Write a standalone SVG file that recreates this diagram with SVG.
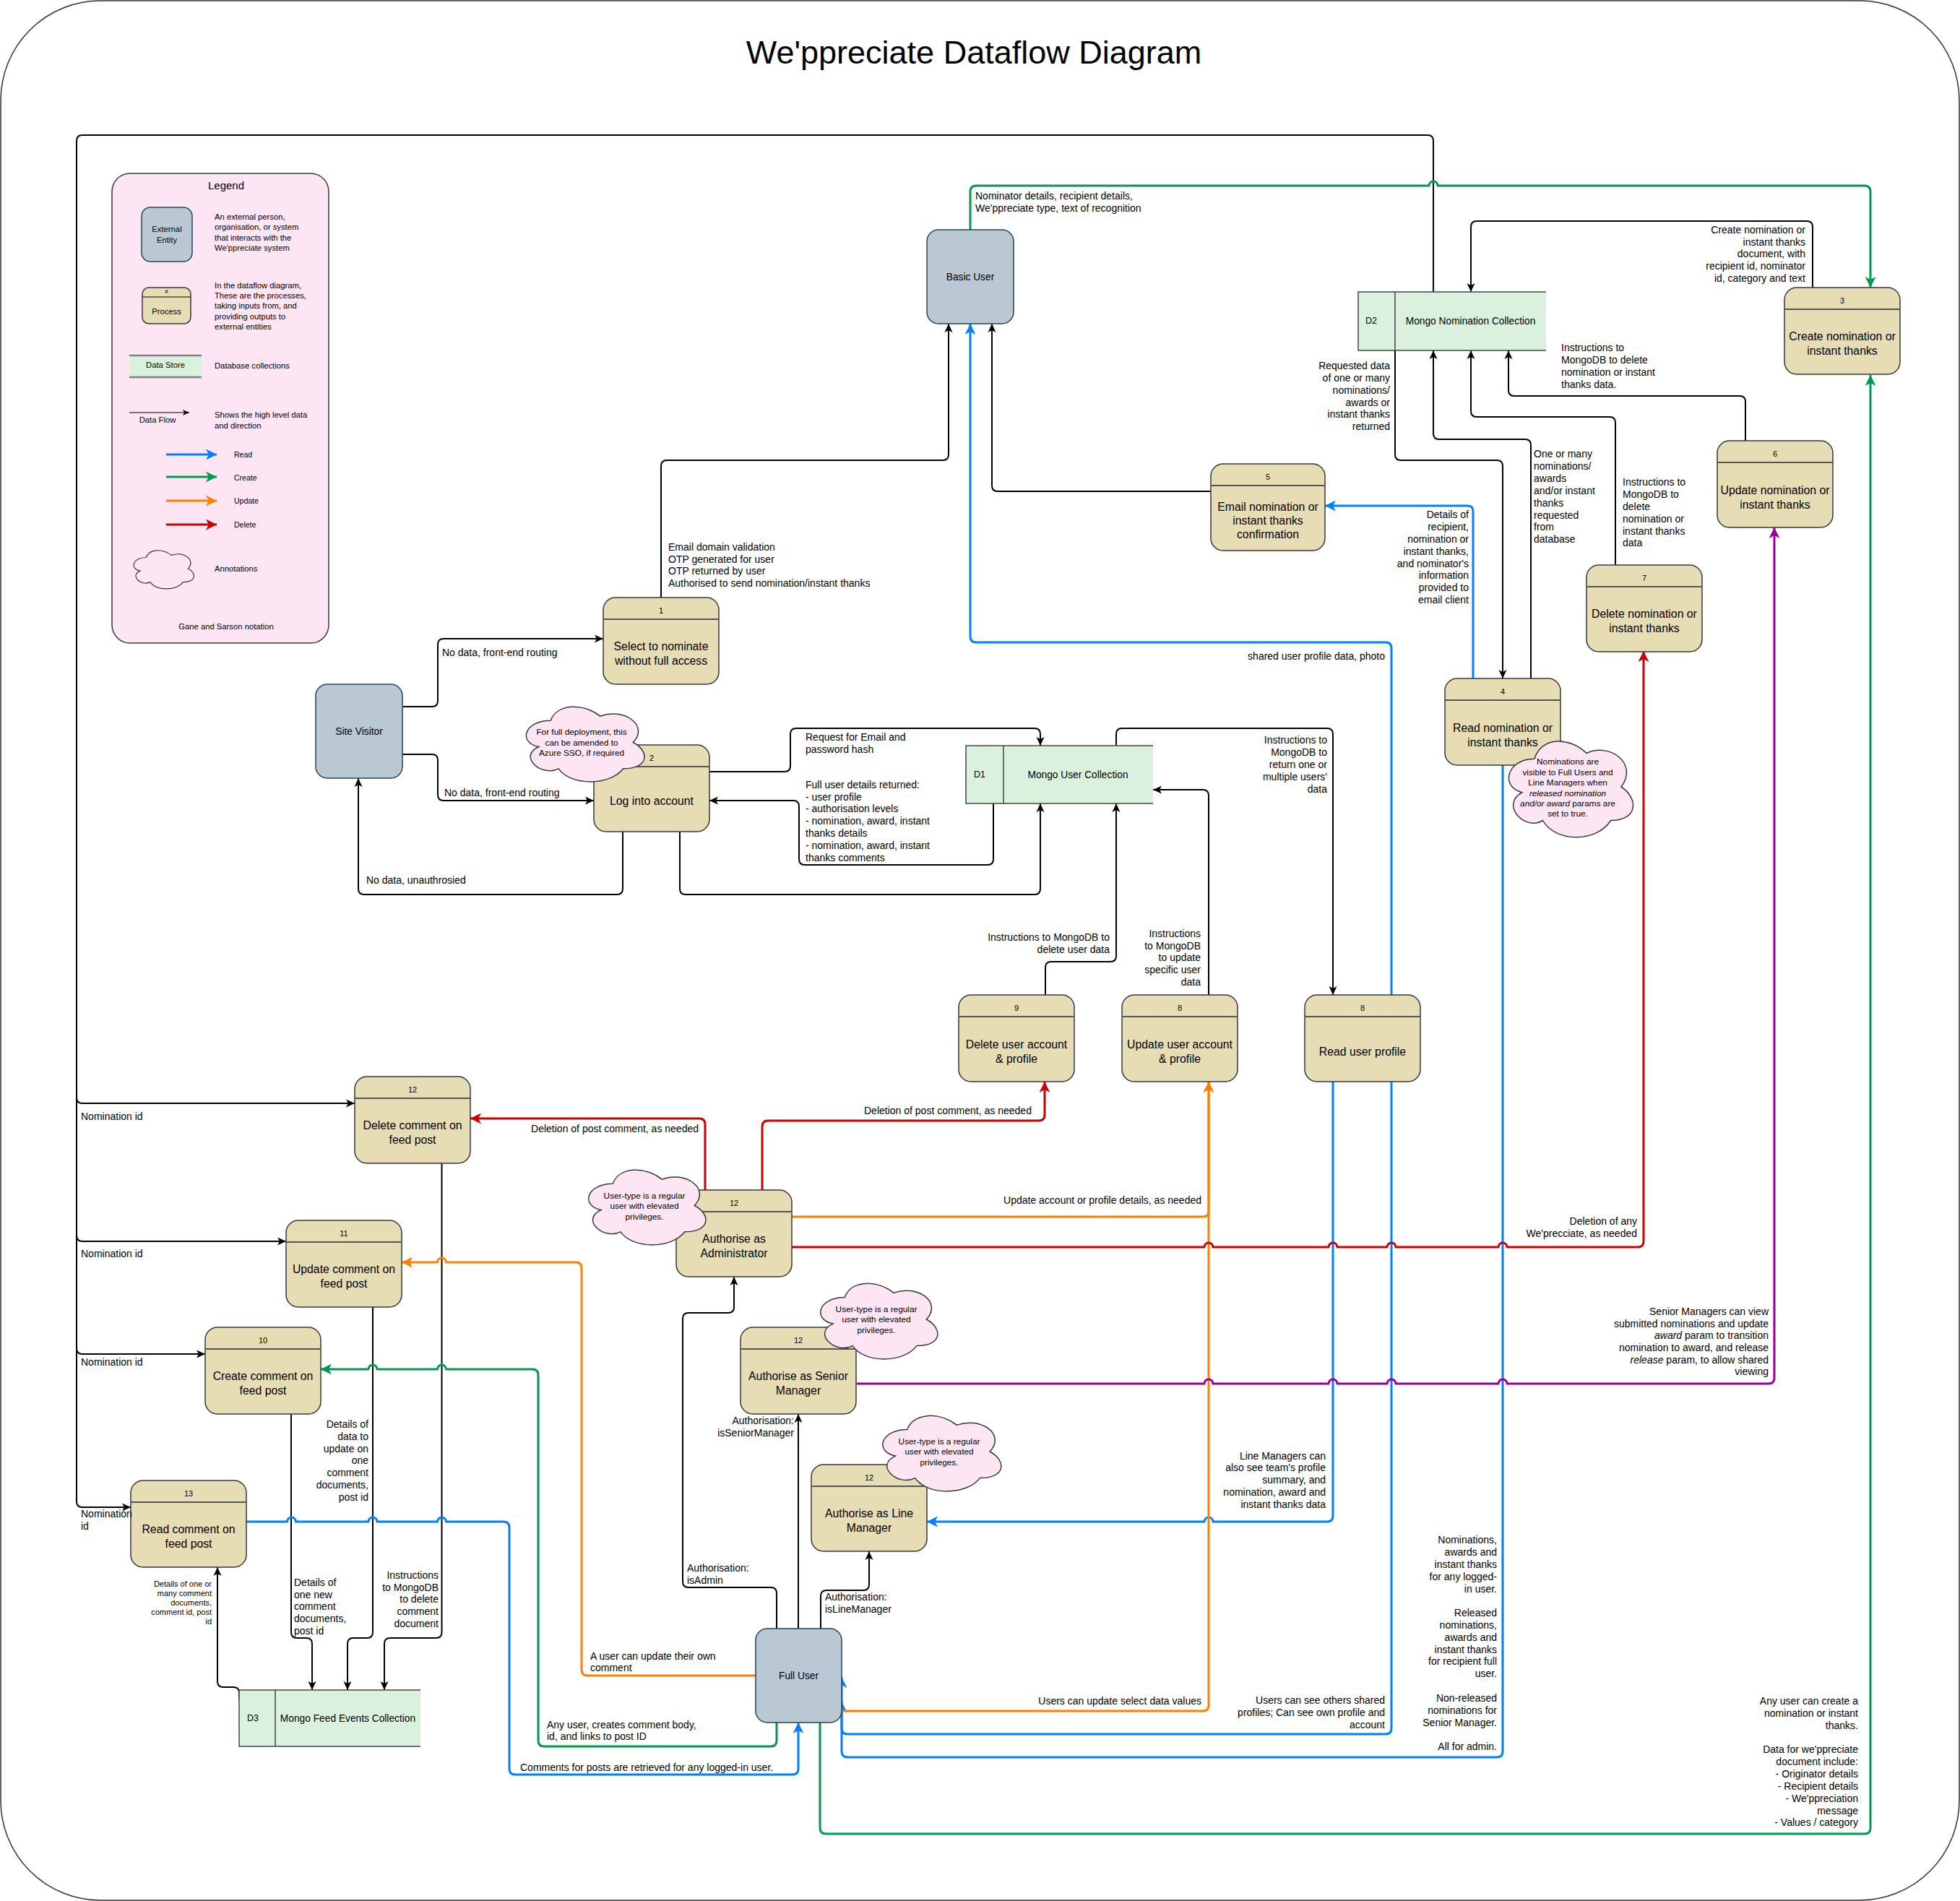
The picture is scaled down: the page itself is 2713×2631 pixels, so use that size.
<svg xmlns="http://www.w3.org/2000/svg" xmlns:xlink="http://www.w3.org/1999/xlink" width="2713" height="2631" viewBox="0 0 2713 2631">
<style>
text{font-family:"Liberation Sans",Arial,Helvetica,sans-serif;dominant-baseline:central;fill:#000}
tspan{dominant-baseline:central}
.l{font-size:14px}
.e{text-anchor:end}
.m{text-anchor:middle}
.pl{font-size:15.8px;text-anchor:middle}
.n{font-size:11px;text-anchor:middle}
.en{font-size:13.75px;text-anchor:middle}
.cl{font-size:11.8px;text-anchor:middle}
.lc{font-size:11.25px;text-anchor:middle}
.lg{font-size:11.25px}
.st{font-size:13.75px}
.sd{font-size:12.5px}
.ent{fill:#bac8d3;stroke:#23445d;stroke-width:1.5}
.proc{fill:#e6ddb5;stroke:#36393d;stroke-width:1.5}
.hdr{stroke:#555;stroke-width:2}
.store{fill:#daf2dd;stroke:none}
.sline{fill:none;stroke:#444;stroke-width:1.5}
.cloud{fill:#fde5f3;stroke:#36393d;stroke-width:1.5}
.k{fill:none;stroke:#000;stroke-width:2}
.b{fill:none;stroke:#007fff;stroke-width:3}
.g{fill:none;stroke:#00994d;stroke-width:3}
.o{fill:none;stroke:#ff8000;stroke-width:3}
.r{fill:none;stroke:#cc0000;stroke-width:3}
.p{fill:none;stroke:#990099;stroke-width:3}
</style>
<defs>
<marker id="mk" markerUnits="userSpaceOnUse" markerWidth="12" markerHeight="12" viewBox="0 0 12 12" refX="12" refY="6" orient="auto"><path d="M0,0.5 L12,6 L0,11.5 L3,6 Z" fill="#000"/></marker>
<marker id="mks" markerUnits="userSpaceOnUse" markerWidth="9" markerHeight="9" viewBox="0 0 9 9" refX="9" refY="4.5" orient="auto"><path d="M0,0.5 L9,4.5 L0,8.5 L2.2,4.5 Z" fill="#000"/></marker>
<marker id="mb" markerUnits="userSpaceOnUse" markerWidth="15" markerHeight="15" viewBox="0 0 15 15" refX="15" refY="7.5" orient="auto"><path d="M0,0 L15,7.5 L0,15 L4,7.5 Z" fill="#007fff"/></marker>
<marker id="mg" markerUnits="userSpaceOnUse" markerWidth="15" markerHeight="15" viewBox="0 0 15 15" refX="15" refY="7.5" orient="auto"><path d="M0,0 L15,7.5 L0,15 L4,7.5 Z" fill="#00994d"/></marker>
<marker id="mo" markerUnits="userSpaceOnUse" markerWidth="15" markerHeight="15" viewBox="0 0 15 15" refX="15" refY="7.5" orient="auto"><path d="M0,0 L15,7.5 L0,15 L4,7.5 Z" fill="#ff8000"/></marker>
<marker id="mr" markerUnits="userSpaceOnUse" markerWidth="15" markerHeight="15" viewBox="0 0 15 15" refX="15" refY="7.5" orient="auto"><path d="M0,0 L15,7.5 L0,15 L4,7.5 Z" fill="#cc0000"/></marker>
<marker id="mp" markerUnits="userSpaceOnUse" markerWidth="15" markerHeight="15" viewBox="0 0 15 15" refX="15" refY="7.5" orient="auto"><path d="M0,0 L15,7.5 L0,15 L4,7.5 Z" fill="#990099"/></marker>
<path id="cloudShape" vector-effect="non-scaling-stroke" d="M25,25 C5,25 0,50 16,55 C0,66 18,90 31,80 C40,100 70,100 80,80 C100,80 100,60 87.5,50 C100,30 80,10 62.5,20 C50,5 30,5 25,25 Z"/>
</defs>

<rect id="frame" x="1" y="1" width="2711" height="2629" rx="138" fill="#fff" stroke="#333" stroke-width="1.5"/>
<g id="title"><text x="1348" y="72" class="m" font-size="45">We'ppreciate Dataflow Diagram</text></g>

<g id="legend">
<rect x="155" y="240" width="300" height="650" rx="25" fill="#fde5f3" stroke="#36393d" stroke-width="1.5"/>
<text x="313" y="256" class="m" font-size="15">Legend</text>
<rect x="196" y="287" width="70" height="75" rx="12" class="ent"/>
<text class="lc"><tspan x="231" y="317">External</tspan><tspan x="231" y="332">Entity</tspan></text>
<text class="lg"><tspan x="297" y="300">An external person,</tspan><tspan x="297" y="314">organisation, or system</tspan><tspan x="297" y="328.5">that interacts with the</tspan><tspan x="297" y="343">We'ppreciate system</tspan></text>
<rect x="197" y="398" width="67" height="50" rx="9" class="proc"/>
<line x1="197" y1="411" x2="264" y2="411" stroke="#000" stroke-width="1.2"/>
<text x="230.5" y="403.5" class="m" font-size="8">#</text>
<text x="230.5" y="431" class="lc">Process</text>
<text class="lg"><tspan x="297" y="395">In the dataflow diagram,</tspan><tspan x="297" y="409">These are the processes,</tspan><tspan x="297" y="423">taking inputs from, and</tspan><tspan x="297" y="437.5">providing outputs to</tspan><tspan x="297" y="452">external entities</tspan></text>
<rect x="179" y="491" width="100" height="32" fill="#daf2dd"/>
<line x1="179" y1="492" x2="279" y2="492" stroke="#808080" stroke-width="2.5"/>
<line x1="179" y1="522" x2="279" y2="522" stroke="#808080" stroke-width="2.5"/>
<text x="229" y="505" class="lc">Data Store</text>
<text x="297" y="505.5" class="lg">Database collections</text>
<line x1="179" y1="571" x2="262" y2="571" stroke="#000" stroke-width="1" marker-end="url(#mks)"/>
<text x="218" y="581" class="lc">Data Flow</text>
<text class="lg"><tspan x="297" y="573.5">Shows the high level data</tspan><tspan x="297" y="588.5">and direction</tspan></text>
<line x1="230" y1="629" x2="300" y2="629" class="b" stroke-width="2" marker-end="url(#mb)"/>
<line x1="230" y1="660" x2="300" y2="660" class="g" stroke-width="2" marker-end="url(#mg)"/>
<line x1="230" y1="693" x2="300" y2="693" class="o" stroke-width="2" marker-end="url(#mo)"/>
<line x1="230" y1="726" x2="300" y2="726" class="r" stroke-width="2" marker-end="url(#mr)"/>
<text x="324" y="629" font-size="10.5">Read</text>
<text x="324" y="660.5" font-size="10.5">Create</text>
<text x="324" y="693" font-size="10.5">Update</text>
<text x="324" y="726" font-size="10.5">Delete</text>
<use xlink:href="#cloudShape" href="#cloudShape" fill="#fde5f3" stroke="#36393d" stroke-width="1.2" transform="translate(179,756) scale(0.93,0.62)"/>
<text x="297" y="787" class="lg">Annotations</text>
<text x="313" y="867" class="lc">Gane and Sarson notation</text>
</g>

<g id="connectors" stroke-linejoin="round">
<path class="k" d="M1984,404 V195 Q1984,187 1976,187 H114 Q106,187 106,195 V2078 Q106,2086 114,2086 H181" marker-end="url(#mk)"/>
<path class="k" d="M106,1519 Q106,1527 114,1527 H491" marker-end="url(#mk)"/>
<path class="k" d="M106,1710 Q106,1718 114,1718 H396" marker-end="url(#mk)"/>
<path class="k" d="M106,1866 Q106,1874 114,1874 H284" marker-end="url(#mk)"/>
<path class="k" d="M915,827 V645 Q915,637 923,637 H1305 Q1313,637 1313,629 V448" marker-end="url(#mk)"/>
<path class="k" d="M1676,680 H1381 Q1373,680 1373,672 V448" marker-end="url(#mk)"/>
<path class="k" d="M1931,485 V629 Q1931,637 1939,637 H2072 Q2080,637 2080,645 V939" marker-end="url(#mk)"/>
<path class="k" d="M2119,939 V616 Q2119,608 2111,608 H1992 Q1984,608 1984,600 V485" marker-end="url(#mk)"/>
<path class="k" d="M2236,782 V585 Q2236,577 2228,577 H2044 Q2036,577 2036,569 V485" marker-end="url(#mk)"/>
<path class="k" d="M2416,610 V556 Q2416,548 2408,548 H2096 Q2088,548 2088,540 V485" marker-end="url(#mk)"/>
<path class="k" d="M2509,398 V314 Q2509,306 2501,306 H2044 Q2036,306 2036,314 V404" marker-end="url(#mk)"/>
<path class="k" d="M1545,1032 V1016 Q1545,1008 1553,1008 H1837 Q1845,1008 1845,1016 V1377" marker-end="url(#mk)"/>
<path class="k" d="M1447,1377 V1339 Q1447,1331 1455,1331 H1537 Q1545,1331 1545,1323 V1112" marker-end="url(#mk)"/>
<path class="k" d="M1673,1377 V1101 Q1673,1093 1665,1093 H1596" marker-end="url(#mk)"/>
<path class="k" d="M982,1068 H1086 Q1094,1068 1094,1060 V1016 Q1094,1008 1102,1008 H1432 Q1440,1008 1440,1016 V1032" marker-end="url(#mk)"/>
<path class="k" d="M1375,1112 V1189 Q1375,1197 1367,1197 H1114 Q1106,1197 1106,1189 V1116 Q1106,1108 1098,1108 H982" marker-end="url(#mk)"/>
<path class="k" d="M941,1150 V1230 Q941,1238 949,1238 H1432 Q1440,1238 1440,1230 V1112" marker-end="url(#mk)"/>
<path class="k" d="M862,1150 V1230 Q862,1238 854,1238 H504 Q496,1238 496,1230 V1077" marker-end="url(#mk)"/>
<path class="k" d="M557,978 H598 Q606,978 606,970 V892 Q606,884 614,884 H835" marker-end="url(#mk)"/>
<path class="k" d="M557,1044 H598 Q606,1044 606,1052 V1100 Q606,1108 614,1108 H822" marker-end="url(#mk)"/>
<path class="k" d="M1075,2254 V2205 Q1075,2197 1067,2197 H953 Q945,2197 945,2189 V1825 Q945,1817 953,1817 H1008 Q1016,1817 1016,1809 V1767" marker-end="url(#mk)"/>
<path class="k" d="M1105,2254 V1957" marker-end="url(#mk)"/>
<path class="k" d="M1136,2254 V2209 Q1136,2201 1144,2201 H1195 Q1203,2201 1203,2193 V2147" marker-end="url(#mk)"/>
<path class="k" d="M403,1957 V2259 Q403,2267 411,2267 H424 Q432,2267 432,2275 V2339" marker-end="url(#mk)"/>
<path class="k" d="M516,1809 V2259 Q516,2267 508,2267 H489 Q481,2267 481,2275 V2339" marker-end="url(#mk)"/>
<path class="k" d="M611.5,1609 V2259 Q611.5,2267 603.5,2267 H540 Q532,2267 532,2275 V2339" marker-end="url(#mk)"/>
<path class="k" d="M331,2352 V2343 Q331,2335 323,2335 H309 Q301,2335 301,2327 V2169" marker-end="url(#mk)"/>

<path class="g" d="M1343,318 V265 Q1343,257 1351,257 H1978 A6,6 0 0,1 1990,257 H2581 Q2589,257 2589,265 V398" marker-end="url(#mg)"/>
<path class="g" d="M1135,2384 V2530 Q1135,2538 1143,2538 H2581 Q2589,2538 2589,2530 V519" marker-end="url(#mg)"/>
<path class="g" d="M1075,2384 V2409 Q1075,2417 1067,2417 H753 Q745,2417 745,2409 V1903 Q745,1895 737,1895 H617.5 A6,6 0 0,0 605.5,1895 H522 A6,6 0 0,0 510,1895 H444" marker-end="url(#mg)"/>

<path class="b" d="M1926,1377 V897 Q1926,889 1918,889 H1351 Q1343,889 1343,881 V448" marker-end="url(#mb)"/>
<path class="b" d="M2039,939 V708 Q2039,700 2031,700 H1834" marker-end="url(#mb)"/>
<path class="b" d="M1845,1497 V2098 Q1845,2106 1837,2106 H1679 A6,6 0 0,0 1667,2106 H1283" marker-end="url(#mb)"/>
<path class="b" d="M1926,1497 V2392 Q1926,2400 1918,2400 H1173 Q1165,2400 1165,2392 V2321" marker-end="url(#mb)"/>
<path class="b" d="M2080,1059 V2424 Q2080,2432 2072,2432 H1173 Q1165,2432 1165,2424 V2355" marker-end="url(#mb)"/>
<path class="b" d="M340,2106 H397.5 A6,6 0 0,1 409.5,2106 H510 A6,6 0 0,1 522,2106 H605.5 A6,6 0 0,1 617.5,2106 H697 Q705,2106 705,2114 V2448 Q705,2456 713,2456 H1097 Q1105,2456 1105,2448 V2384" marker-end="url(#mb)"/>

<path class="o" d="M1095,1684 H1665 Q1673,1684 1673,1676 V1497" marker-end="url(#mo)"/>
<path class="o" d="M1166,2368 H1665 Q1673,2368 1673,2360 V1497" marker-end="url(#mo)"/>
<path class="o" d="M1046,2319 H813 Q805,2319 805,2311 V1755 Q805,1747 797,1747 H617.5 A6,6 0 0,0 605.5,1747 H556" marker-end="url(#mo)"/>

<path class="r" d="M1095,1726 H1667 A6,6 0 0,1 1679,1726 H1839 A6,6 0 0,1 1851,1726 H1920 A6,6 0 0,1 1932,1726 H2074 A6,6 0 0,1 2086,1726 H2267 Q2275,1726 2275,1718 V901" marker-end="url(#mr)"/>
<path class="r" d="M976,1647 V1556 Q976,1548 968,1548 H651" marker-end="url(#mr)"/>
<path class="r" d="M1055,1647 V1559 Q1055,1551 1063,1551 H1438 Q1446,1551 1446,1543 V1497" marker-end="url(#mr)"/>

<path class="p" d="M1186,1915 H1667 A6,6 0 0,1 1679,1915 H1839 A6,6 0 0,1 1851,1915 H1920 A6,6 0 0,1 1932,1915 H2074 A6,6 0 0,1 2086,1915 H2448 Q2456,1915 2456,1907 V730" marker-end="url(#mp)"/>
</g>

<g id="basic-user"><rect x="1283" y="318" width="120" height="130" rx="16" class="ent"/><text x="1343" y="383" class="en">Basic User</text></g>
<g id="site-visitor"><rect x="437" y="947" width="120" height="130" rx="16" class="ent"/><text x="497" y="1012" class="en">Site Visitor</text></g>
<g id="full-user"><rect x="1046" y="2254" width="119" height="130" rx="16" class="ent"/><text x="1105.5" y="2319" class="en">Full User</text></g>

<g id="p1-select-nominate"><rect x="835" y="827" width="160" height="120" rx="17" class="proc"/><line x1="835" y1="857" x2="995" y2="857" class="hdr"/><text x="915" y="844.5" class="n">1</text><text class="pl"><tspan x="915" y="894">Select to nominate</tspan><tspan x="915" y="914">without full access</tspan></text></g>
<g id="p2-login"><rect x="822" y="1031" width="160" height="120" rx="17" class="proc"/><line x1="822" y1="1061" x2="982" y2="1061" class="hdr"/><text x="902" y="1048.5" class="n">2</text><text x="902" y="1108" class="pl">Log into account</text></g>
<g id="p3-create-nomination"><rect x="2470" y="398" width="160" height="120" rx="17" class="proc"/><line x1="2470" y1="428" x2="2630" y2="428" class="hdr"/><text x="2550" y="415.5" class="n">3</text><text class="pl"><tspan x="2550" y="465">Create nomination or</tspan><tspan x="2550" y="485">instant thanks</tspan></text></g>
<g id="p4-read-nomination"><rect x="2000" y="939" width="160" height="120" rx="17" class="proc"/><line x1="2000" y1="969" x2="2160" y2="969" class="hdr"/><text x="2080" y="956.5" class="n">4</text><text class="pl"><tspan x="2080" y="1007">Read nomination or</tspan><tspan x="2080" y="1027">instant thanks</tspan></text></g>
<g id="p5-email-confirmation"><rect x="1676" y="642" width="158" height="120" rx="17" class="proc"/><line x1="1676" y1="672" x2="1834" y2="672" class="hdr"/><text x="1755" y="659.5" class="n">5</text><text class="pl"><tspan x="1755" y="701">Email nomination or</tspan><tspan x="1755" y="720">instant thanks</tspan><tspan x="1755" y="739">confirmation</tspan></text></g>
<g id="p6-update-nomination"><rect x="2377" y="610" width="160" height="120" rx="17" class="proc"/><line x1="2377" y1="640" x2="2537" y2="640" class="hdr"/><text x="2457" y="627.5" class="n">6</text><text class="pl"><tspan x="2457" y="678">Update nomination or</tspan><tspan x="2457" y="698">instant thanks</tspan></text></g>
<g id="p7-delete-nomination"><rect x="2196" y="782" width="160" height="120" rx="17" class="proc"/><line x1="2196" y1="812" x2="2356" y2="812" class="hdr"/><text x="2276" y="799.5" class="n">7</text><text class="pl"><tspan x="2276" y="849">Delete nomination or</tspan><tspan x="2276" y="869">instant thanks</tspan></text></g>
<g id="p9-delete-user"><rect x="1327" y="1377" width="160" height="120" rx="17" class="proc"/><line x1="1327" y1="1407" x2="1487" y2="1407" class="hdr"/><text x="1407" y="1394.5" class="n">9</text><text class="pl"><tspan x="1407" y="1445">Delete user account</tspan><tspan x="1407" y="1465">&amp; profile</tspan></text></g>
<g id="p8-update-user"><rect x="1553" y="1377" width="160" height="120" rx="17" class="proc"/><line x1="1553" y1="1407" x2="1713" y2="1407" class="hdr"/><text x="1633" y="1394.5" class="n">8</text><text class="pl"><tspan x="1633" y="1445">Update user account</tspan><tspan x="1633" y="1465">&amp; profile</tspan></text></g>
<g id="p8-read-user"><rect x="1806" y="1377" width="160" height="120" rx="17" class="proc"/><line x1="1806" y1="1407" x2="1966" y2="1407" class="hdr"/><text x="1886" y="1394.5" class="n">8</text><text x="1886" y="1455" class="pl">Read user profile</text></g>
<g id="p12-delete-comment"><rect x="491" y="1490" width="160" height="120" rx="17" class="proc"/><line x1="491" y1="1520" x2="651" y2="1520" class="hdr"/><text x="571" y="1507.5" class="n">12</text><text class="pl"><tspan x="571" y="1557">Delete comment on</tspan><tspan x="571" y="1577">feed post</tspan></text></g>
<g id="p11-update-comment"><rect x="396" y="1689" width="160" height="120" rx="17" class="proc"/><line x1="396" y1="1719" x2="556" y2="1719" class="hdr"/><text x="476" y="1706.5" class="n">11</text><text class="pl"><tspan x="476" y="1756">Update comment on</tspan><tspan x="476" y="1776">feed post</tspan></text></g>
<g id="p10-create-comment"><rect x="284" y="1837" width="160" height="120" rx="17" class="proc"/><line x1="284" y1="1867" x2="444" y2="1867" class="hdr"/><text x="364" y="1854.5" class="n">10</text><text class="pl"><tspan x="364" y="1904">Create comment on</tspan><tspan x="364" y="1924">feed post</tspan></text></g>
<g id="p13-read-comment"><rect x="181" y="2049" width="160" height="120" rx="17" class="proc"/><line x1="181" y1="2079" x2="341" y2="2079" class="hdr"/><text x="261" y="2066.5" class="n">13</text><text class="pl"><tspan x="261" y="2116">Read comment on</tspan><tspan x="261" y="2136">feed post</tspan></text></g>
<g id="p12-auth-admin"><rect x="936" y="1647" width="160" height="120" rx="17" class="proc"/><line x1="936" y1="1677" x2="1096" y2="1677" class="hdr"/><text x="1016" y="1664.5" class="n">12</text><text class="pl"><tspan x="1016" y="1714">Authorise as</tspan><tspan x="1016" y="1734">Administrator</tspan></text></g>
<g id="p12-auth-senior"><rect x="1025" y="1837" width="160" height="120" rx="17" class="proc"/><line x1="1025" y1="1867" x2="1185" y2="1867" class="hdr"/><text x="1105" y="1854.5" class="n">12</text><text class="pl"><tspan x="1105" y="1904">Authorise as Senior</tspan><tspan x="1105" y="1924">Manager</tspan></text></g>
<g id="p12-auth-line"><rect x="1123" y="2027" width="160" height="120" rx="17" class="proc"/><line x1="1123" y1="2057" x2="1283" y2="2057" class="hdr"/><text x="1203" y="2044.5" class="n">12</text><text class="pl"><tspan x="1203" y="2094">Authorise as Line</tspan><tspan x="1203" y="2114">Manager</tspan></text></g>

<g id="d1-user-collection"><rect x="1337" y="1032" width="259" height="80" class="store"/><path d="M1596,1032 H1337 V1112 H1596 M1389,1032 V1112" class="sline"/><text x="1348" y="1072" class="sd">D1</text><text x="1492" y="1072" class="st m">Mongo User Collection</text></g>
<g id="d2-nomination-collection"><rect x="1880" y="404" width="260" height="81" class="store"/><path d="M2140,404 H1880 V485 H2140 M1931,404 V485" class="sline"/><text x="1890" y="444" class="sd">D2</text><text x="2035.5" y="444" class="st m">Mongo Nomination Collection</text></g>
<g id="d3-feed-collection"><rect x="331" y="2339" width="251" height="78" class="store"/><path d="M582,2339 H331 V2417 H582 M381,2339 V2417" class="sline"/><text x="342" y="2378" class="sd">D3</text><text x="481.5" y="2378" class="st m">Mongo Feed Events Collection</text></g>

<g id="note-sso"><use xlink:href="#cloudShape" href="#cloudShape" class="cloud" transform="translate(716.5,967) scale(1.827,1.21)"/><text class="cl"><tspan x="805" y="1013">For full deployment, this</tspan><tspan x="805" y="1027.5">can be amended to</tspan><tspan x="805" y="1042">Azure SSO, if required</tspan></text></g>
<g id="note-visibility"><use xlink:href="#cloudShape" href="#cloudShape" class="cloud" transform="translate(2076,1011.5) scale(1.92,1.55)"/><text class="cl"><tspan x="2170" y="1054">Nominations are</tspan><tspan x="2170" y="1069">visible to Full Users and</tspan><tspan x="2170" y="1083">Line Managers when</tspan><tspan x="2170" y="1098" font-style="italic">released nomination</tspan><tspan x="2170" y="1112"><tspan font-style="italic">and/or award</tspan> params are</tspan><tspan x="2170" y="1126">set to true.</tspan></text></g>
<g id="note-admin"><use xlink:href="#cloudShape" href="#cloudShape" class="cloud" transform="translate(803,1608) scale(1.81,1.21)"/><text class="cl"><tspan x="892" y="1655">User-type is a regular</tspan><tspan x="892" y="1669">user with elevated</tspan><tspan x="892" y="1684">privileges.</tspan></text></g>
<g id="note-senior"><use xlink:href="#cloudShape" href="#cloudShape" class="cloud" transform="translate(1124,1765) scale(1.81,1.22)"/><text class="cl"><tspan x="1213" y="1812">User-type is a regular</tspan><tspan x="1213" y="1826">user with elevated</tspan><tspan x="1213" y="1841">privileges.</tspan></text></g>
<g id="note-line"><use xlink:href="#cloudShape" href="#cloudShape" class="cloud" transform="translate(1210,1948) scale(1.83,1.22)"/><text class="cl"><tspan x="1300" y="1995">User-type is a regular</tspan><tspan x="1300" y="2009">user with elevated</tspan><tspan x="1300" y="2024">privileges.</tspan></text></g>

<g id="edge-labels">
<text class="l"><tspan x="1350" y="271">Nominator details, recipient details,</tspan><tspan x="1350" y="288">We'ppreciate type, text of recognition</tspan></text>
<text class="l"><tspan x="925" y="757">Email domain validation</tspan><tspan x="925" y="773.5">OTP generated for user</tspan><tspan x="925" y="790">OTP returned by user</tspan><tspan x="925" y="806.5">Authorised to send nomination/instant thanks</tspan></text>
<text class="l e"><tspan x="2499" y="318">Create nomination or</tspan><tspan x="2499" y="334.5">instant thanks</tspan><tspan x="2499" y="351">document, with</tspan><tspan x="2499" y="368">recipient id, nominator</tspan><tspan x="2499" y="385">id, category and text</tspan></text>
<text class="l e"><tspan x="1924" y="506">Requested data</tspan><tspan x="1924" y="523">of one or many</tspan><tspan x="1924" y="540">nominations/</tspan><tspan x="1924" y="557">awards or</tspan><tspan x="1924" y="573">instant thanks</tspan><tspan x="1924" y="590">returned</tspan></text>
<text class="l"><tspan x="2161" y="481">Instructions to</tspan><tspan x="2161" y="498">MongoDB to delete</tspan><tspan x="2161" y="515">nomination or instant</tspan><tspan x="2161" y="531.5">thanks data.</tspan></text>
<text class="l"><tspan x="2123" y="628">One or many</tspan><tspan x="2123" y="645">nominations/</tspan><tspan x="2123" y="662">awards</tspan><tspan x="2123" y="679">and/or instant</tspan><tspan x="2123" y="696">thanks</tspan><tspan x="2123" y="712.5">requested</tspan><tspan x="2123" y="729">from</tspan><tspan x="2123" y="746">database</tspan></text>
<text class="l"><tspan x="2246" y="667">Instructions to</tspan><tspan x="2246" y="684">MongoDB to</tspan><tspan x="2246" y="701">delete</tspan><tspan x="2246" y="718">nomination or</tspan><tspan x="2246" y="734.5">instant thanks</tspan><tspan x="2246" y="751">data</tspan></text>
<text class="l e"><tspan x="2033" y="712">Details of</tspan><tspan x="2033" y="729">recipient,</tspan><tspan x="2033" y="746">nomination or</tspan><tspan x="2033" y="763">instant thanks,</tspan><tspan x="2033" y="780">and nominator's</tspan><tspan x="2033" y="796">information</tspan><tspan x="2033" y="813">provided to</tspan><tspan x="2033" y="830">email client</tspan></text>
<text x="1917" y="908" class="l e">shared user profile data, photo</text>
<text x="612" y="903" class="l">No data, front-end routing</text>
<text x="615" y="1097" class="l">No data, front-end routing</text>
<text x="507" y="1218" class="l">No data, unauthrosied</text>
<text class="l"><tspan x="1115" y="1020">Request for Email and</tspan><tspan x="1115" y="1037">password hash</tspan></text>
<text class="l"><tspan x="1115" y="1086">Full user details returned:</tspan><tspan x="1115" y="1103">- user profile</tspan><tspan x="1115" y="1119">- authorisation levels</tspan><tspan x="1115" y="1136">- nomination, award, instant</tspan><tspan x="1115" y="1153">thanks details</tspan><tspan x="1115" y="1170">- nomination, award, instant</tspan><tspan x="1115" y="1187">thanks comments</tspan></text>
<text class="l e"><tspan x="1837" y="1024">Instructions to</tspan><tspan x="1837" y="1041">MongoDB to</tspan><tspan x="1837" y="1058">return one or</tspan><tspan x="1837" y="1075">multiple users'</tspan><tspan x="1837" y="1092">data</tspan></text>
<text class="l e"><tspan x="1536" y="1297">Instructions to MongoDB to</tspan><tspan x="1536" y="1314">delete user data</tspan></text>
<text class="l e"><tspan x="1662" y="1292">Instructions</tspan><tspan x="1662" y="1309">to MongoDB</tspan><tspan x="1662" y="1325">to update</tspan><tspan x="1662" y="1342">specific user</tspan><tspan x="1662" y="1359">data</tspan></text>
<text x="967" y="1562" class="l e">Deletion of post comment, as needed</text>
<text x="1196" y="1537" class="l">Deletion of post comment, as needed</text>
<text x="1663" y="1661" class="l e">Update account or profile details, as needed</text>
<text class="l e"><tspan x="2266" y="1690">Deletion of any</tspan><tspan x="2266" y="1707">We'precciate, as needed</tspan></text>
<text class="l e"><tspan x="2448" y="1815">Senior Managers can view</tspan><tspan x="2448" y="1832">submitted nominations and update</tspan><tspan x="2448" y="1848"><tspan font-style="italic">award</tspan> param to transition</tspan><tspan x="2448" y="1865">nomination to award, and release</tspan><tspan x="2448" y="1882"><tspan font-style="italic">release</tspan> param, to allow shared</tspan><tspan x="2448" y="1898">viewing</tspan></text>
<text class="l e"><tspan x="1835" y="2015">Line Managers can</tspan><tspan x="1835" y="2031">also see team's profile</tspan><tspan x="1835" y="2048">summary, and</tspan><tspan x="1835" y="2065">nomination, award and</tspan><tspan x="1835" y="2082">instant thanks data</tspan></text>
<text class="l e"><tspan x="1917" y="2353">Users can see others shared</tspan><tspan x="1917" y="2370">profiles; Can see own profile and</tspan><tspan x="1917" y="2387">account</tspan></text>
<text class="l e"><tspan x="2072" y="2131">Nominations,</tspan><tspan x="2072" y="2148">awards and</tspan><tspan x="2072" y="2165">instant thanks</tspan><tspan x="2072" y="2182">for any logged-</tspan><tspan x="2072" y="2199">in user.</tspan><tspan x="2072" y="2232">Released</tspan><tspan x="2072" y="2249">nominations,</tspan><tspan x="2072" y="2266">awards and</tspan><tspan x="2072" y="2283">instant thanks</tspan><tspan x="2072" y="2299">for recipient full</tspan><tspan x="2072" y="2316">user.</tspan><tspan x="2072" y="2350">Non-released</tspan><tspan x="2072" y="2367">nominations for</tspan><tspan x="2072" y="2384">Senior Manager.</tspan><tspan x="2072" y="2417">All for admin.</tspan></text>
<text class="l e"><tspan x="2572" y="2354">Any user can create a</tspan><tspan x="2572" y="2371">nomination or instant</tspan><tspan x="2572" y="2388">thanks.</tspan><tspan x="2572" y="2421">Data for we'ppreciate</tspan><tspan x="2572" y="2438">document include:</tspan><tspan x="2572" y="2455">- Originator details</tspan><tspan x="2572" y="2472">- Recipient details</tspan><tspan x="2572" y="2489">- We'ppreciation</tspan><tspan x="2572" y="2505.5">message</tspan><tspan x="2572" y="2522">- Values / category</tspan></text>
<text x="1663" y="2354" class="l e">Users can update select data values</text>
<text class="l"><tspan x="817" y="2292">A user can update their own</tspan><tspan x="817" y="2308">comment</tspan></text>
<text class="l"><tspan x="757" y="2387">Any user, creates comment body,</tspan><tspan x="757" y="2403">id, and links to post ID</tspan></text>
<text x="720" y="2446" class="l">Comments for posts are retrieved for any logged-in user.</text>
<text class="l"><tspan x="951" y="2170">Authorisation:</tspan><tspan x="951" y="2187">isAdmin</tspan></text>
<text class="l e"><tspan x="1099" y="1966">Authorisation:</tspan><tspan x="1099" y="1983">isSeniorManager</tspan></text>
<text class="l"><tspan x="1142" y="2210">Authorisation:</tspan><tspan x="1142" y="2227">isLineManager</tspan></text>
<text x="112" y="1545" class="l">Nomination id</text>
<text x="112" y="1735" class="l">Nomination id</text>
<text x="112" y="1885" class="l">Nomination id</text>
<text class="l"><tspan x="112" y="2095">Nomination</tspan><tspan x="112" y="2112">id</tspan></text>
<text class="l e"><tspan x="510" y="1971">Details of</tspan><tspan x="510" y="1988">data to</tspan><tspan x="510" y="2005">update on</tspan><tspan x="510" y="2021">one</tspan><tspan x="510" y="2038">comment</tspan><tspan x="510" y="2055">documents,</tspan><tspan x="510" y="2072">post id</tspan></text>
<text class="l"><tspan x="407" y="2190">Details of</tspan><tspan x="407" y="2207">one new</tspan><tspan x="407" y="2223">comment</tspan><tspan x="407" y="2240">documents,</tspan><tspan x="407" y="2257">post id</tspan></text>
<text class="l e"><tspan x="607" y="2180">Instructions</tspan><tspan x="607" y="2197">to MongoDB</tspan><tspan x="607" y="2213">to delete</tspan><tspan x="607" y="2230">comment</tspan><tspan x="607" y="2247">document</tspan></text>
<text class="e" font-size="11"><tspan x="293" y="2192">Details of one or</tspan><tspan x="293" y="2205">many comment</tspan><tspan x="293" y="2218">documents,</tspan><tspan x="293" y="2231">comment id, post</tspan><tspan x="293" y="2244">id</tspan></text>
</g>
</svg>
